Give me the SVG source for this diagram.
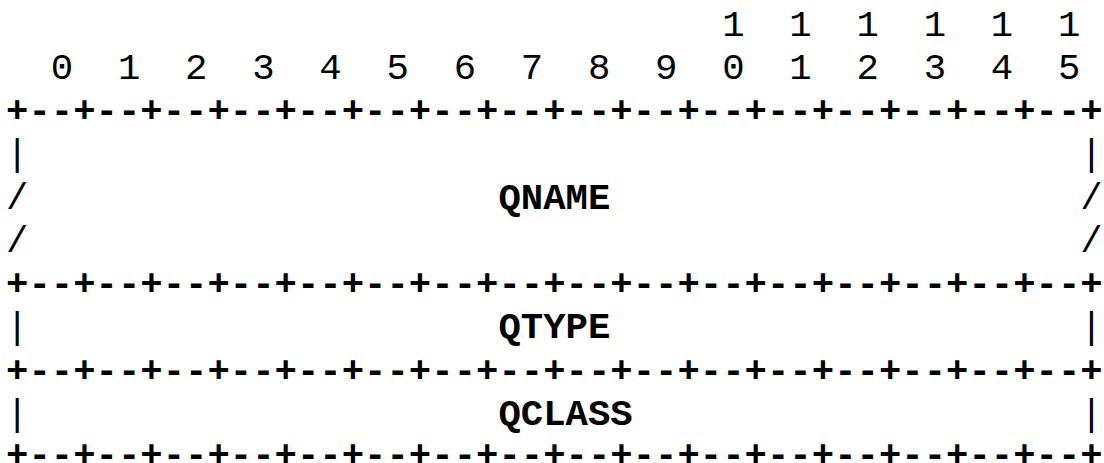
<svg xmlns="http://www.w3.org/2000/svg" width="1104" height="463" viewBox="0 0 1104 463">
<style>
  text { font-family: "Liberation Mono", "DejaVu Sans Mono", monospace; font-size: 37.3px; fill: #000; white-space: pre; }
  .num { font-weight: normal; }
  .grid { font-weight: bold; }
  .bar { font-weight: normal; }
  .lbl { font-weight: bold; }
</style>
<rect width="1104" height="463" fill="#fff"/>
<g id="ruler">
  <text class="num" x="6" y="35.5" xml:space="preserve">                                1  1  1  1  1  1</text>
  <text class="num" x="6" y="78.75" xml:space="preserve">  0  1  2  3  4  5  6  7  8  9  0  1  2  3  4  5</text>
</g>
<g id="connectors">
  <text class="grid" x="6" y="122" xml:space="preserve">+--+--+--+--+--+--+--+--+--+--+--+--+--+--+--+--+</text>
  <text class="grid" x="6" y="295" xml:space="preserve">+--+--+--+--+--+--+--+--+--+--+--+--+--+--+--+--+</text>
  <text class="grid" x="6" y="381.5" xml:space="preserve">+--+--+--+--+--+--+--+--+--+--+--+--+--+--+--+--+</text>
  <text class="grid" x="6" y="466" xml:space="preserve">+--+--+--+--+--+--+--+--+--+--+--+--+--+--+--+--+</text>
</g>
<g id="qname">
  <text class="bar" x="6" y="165.25" xml:space="preserve">|                                               |</text>
  <text class="bar" x="6" y="208.5" xml:space="preserve">/                     <tspan class="lbl">QNAME</tspan>                     /</text>
  <text class="bar" x="6" y="251.75" xml:space="preserve">/                                               /</text>
</g>
<g id="qtype">
  <text class="bar" x="6" y="338.25" xml:space="preserve">|                     <tspan class="lbl">QTYPE</tspan>                     |</text>
</g>
<g id="qclass">
  <text class="bar" x="6" y="424.75" xml:space="preserve">|                     <tspan class="lbl">QCLASS</tspan>                    |</text>
</g>
</svg>
